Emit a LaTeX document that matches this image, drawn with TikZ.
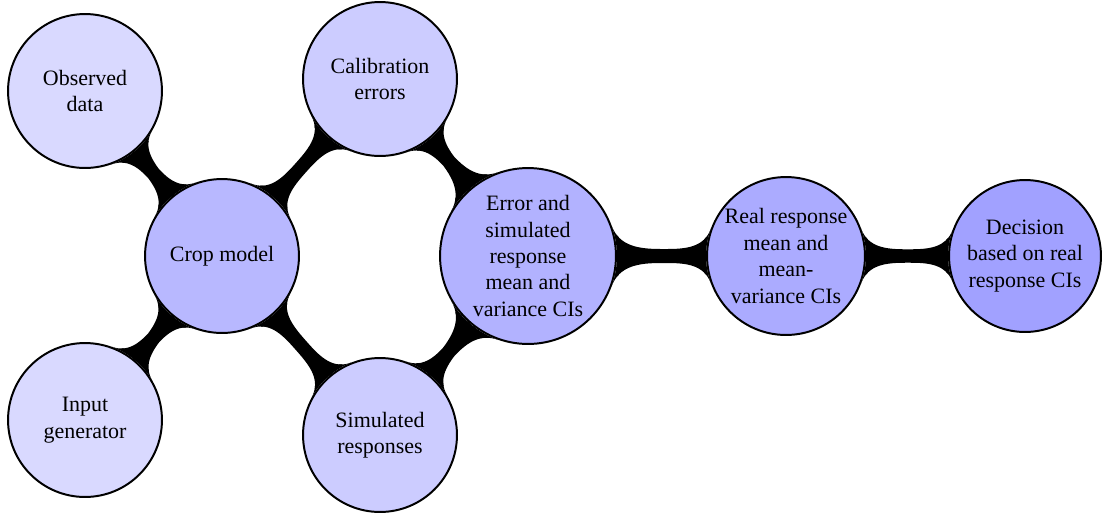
\documentclass[tikz,border=0pt]{standalone}
\usepackage{fontspec}
\setmainfont{Liberation Serif}
\usetikzlibrary{mindmap,backgrounds}

\tikzset{
  idea/.style={circle, draw=black, line width=0.9pt, align=center,
    inner sep=0pt, font=\normalsize},
  small idea/.style={idea, minimum size=2.464cm},
  link/.style={circle connection bar switch color=from (black) to (black)},
}

\begin{document}
\begin{tikzpicture}[x=0.016cm, y=-0.016cm]
  \useasboundingbox (0,0) rectangle (1102,514);

  % concepts
  \node[small idea, fill=blue!15] (obs)  at (85,91)   {Observed\\data};
  \node[small idea, fill=blue!20] (cal)  at (380,79)  {Calibration\\errors};
  \node[small idea, fill=blue!28] (crop) at (222,256) {Crop model};
  \node[small idea, fill=blue!15] (inp)  at (85,420)  {Input\\generator};
  \node[small idea, fill=blue!20] (sim)  at (380,435) {Simulated\\responses};
  \node[idea, minimum size=2.816cm, fill=blue!30] (err) at (528,256)
    {Error and\\simulated\\response\\mean and\\variance CIs};
  \node[idea, minimum size=2.528cm, fill=blue!33] (real) at (786,256)
    {Real response\\mean and\\mean-\\variance CIs};
  \node[idea, minimum size=2.432cm, fill=blue!37] (dec) at (1025,256)
    {Decision\\based on real\\response CIs};

  % connection bars behind the circles
  \begin{pgfonlayer}{background}
    \path (obs)  to[link] (crop);
    \path (cal)  to[link] (crop);
    \path (inp)  to[link] (crop);
    \path (crop) to[link] (sim);
    \path (cal)  to[link] (err);
    \path (sim)  to[link] (err);
    \path (err)  to[link] (real);
    \path (real) to[link] (dec);
  \end{pgfonlayer}
\end{tikzpicture}
\end{document}
